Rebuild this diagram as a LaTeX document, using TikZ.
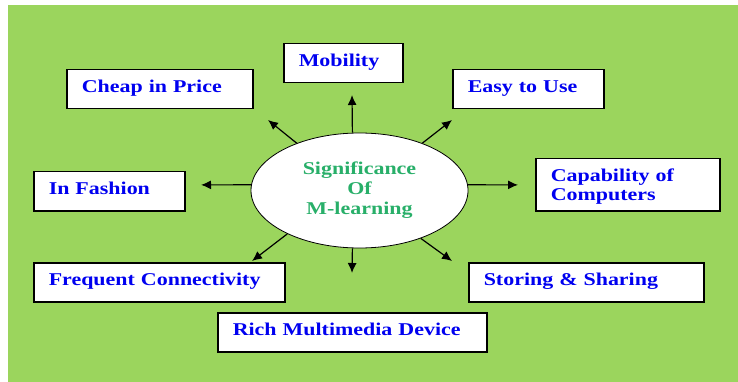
\documentclass[tikz,border=0pt]{standalone}
\usepackage{fontspec}
\newfontfamily\boxfont[FakeStretch=1.22]{Liberation Serif}
\usetikzlibrary{arrows.meta,shapes.geometric}
\definecolor{leaf}{RGB}{155,213,93}
\definecolor{itemblue}{RGB}{0,0,240}
\definecolor{siggreen}{RGB}{40,175,105}

\begin{document}
\begin{tikzpicture}[x=1pt,y=-1pt,
		item/.style={draw,line width=1.5pt,fill=white,anchor=north west,
			minimum height=39pt,inner xsep=15pt,inner ysep=0pt,align=left,
			text height=12pt,text depth=5pt,text=itemblue,
			font=\boxfont\bfseries\fontsize{18}{19}\selectfont},
		hub/.style={draw,ellipse,line width=0.8pt,fill=white,minimum width=217pt,
			minimum height=115pt,align=center,text=siggreen,
			font=\boxfont\bfseries\fontsize{18}{20}\selectfont},
		spoke/.style={line width=1.2pt,-{Latex[length=10pt,width=9pt]}}]
		
		\useasboundingbox (0,0) rectangle (738,382);
		\fill[leaf] (8,5) rectangle (738,382);
		
		\node[hub] (sig) at (359.5,190.5) {Significance\\Of\\M-learning};
		
		\node[item,text width=89pt] (f1) at (283,43) {Mobility};
		\node[item,text width=156pt] (f2) at (66,69) {Cheap in Price};
		\node[item,text width=121pt] (f3) at (452,69) {Easy to Use};
		\node[item,text width=154pt,minimum height=52pt,text height=18pt,
			text depth=24pt] (f4) at (535,158) {Capability of\\Computers};
		\node[item,text width=121pt] (f5) at (33,171) {In Fashion};
		\node[item,text width=221pt] (f6) at (33,262) {Frequent Connectivity};
		\node[item,text width=205pt] (f7) at (468,262) {Storing \& Sharing};
		\node[item,text width=239pt] (f8) at (217,312) {Rich Multimedia Device};
		
		% free ends of the spokes
		\coordinate (aux1) at (352,95);
		\coordinate (aux2) at (268,120);
		\coordinate (aux3) at (452,120);
		\coordinate (aux4) at (518,184.9);
		\coordinate (aux5) at (201,184.9);
		\coordinate (aux6) at (252,261);
		\coordinate (aux7) at (452,261);
		\coordinate (aux8) at (352,273);
		
		\foreach \A/\X in {97/1,143/2,37/3,3/4,177/5,211/6,322/7,263/8}
		{
			\draw[spoke] (sig.\A) -- (aux\X);
		}
		
	\end{tikzpicture}
\end{document}
